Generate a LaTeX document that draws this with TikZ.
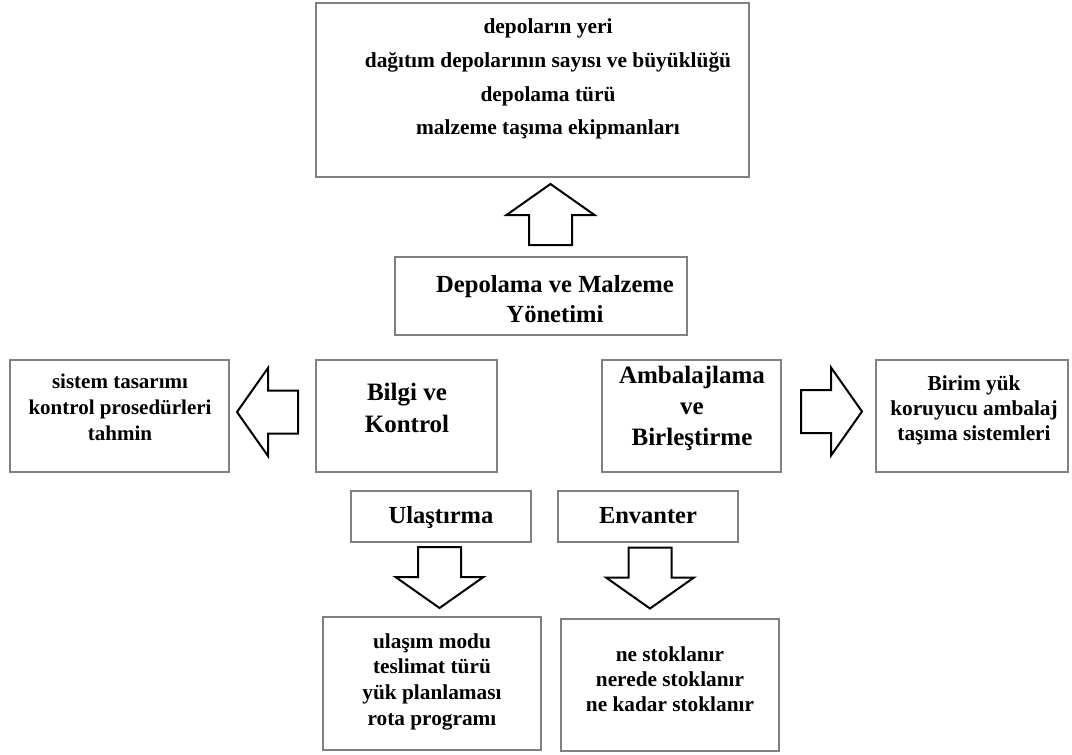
\documentclass[tikz,border=0pt]{standalone}
\usepackage{fontspec}
\setmainfont{Liberation Serif}
\definecolor{frame}{RGB}{128,128,128}
\tikzset{
  box/.style={draw=frame, line width=1.8pt, fill=white, inner sep=0pt, rectangle},
  txt/.style={align=center, inner sep=0pt},
  fs/.style 2 args={font=\fontsize{#1}{#2}\selectfont\bfseries},
  pics/blockarrow/.style={code={
    \draw[line width=2pt, line join=miter, fill=white]
      (0,-21.5) -- (30,-21.5) -- (30,-44) -- (61,0) -- (30,44) -- (30,21.5) -- (0,21.5) -- cycle;
  }}
}
\begin{document}
\begin{tikzpicture}[x=1pt, y=-1pt]
\useasboundingbox (0,0) rectangle (1072,755);

% frames
\node[box, minimum width=433, minimum height=174] (top)     at (532.5,90)  {};
\node[box, minimum width=292, minimum height=78]  (depo)    at (541,296)   {};
\node[box, minimum width=219, minimum height=112] (sistem)  at (119.5,416) {};
\node[box, minimum width=181, minimum height=112] (bilgi)   at (406.5,416) {};
\node[box, minimum width=179, minimum height=112] (ambalaj) at (691.5,416) {};
\node[box, minimum width=192, minimum height=112] (birim)   at (972,416)   {};
\node[box, minimum width=180, minimum height=51]  (ulas)    at (441,516.5) {};
\node[box, minimum width=180, minimum height=51]  (env)     at (648,516.5) {};
\node[box, minimum width=218, minimum height=133] (ulasL)   at (432,683.5) {};
\node[box, minimum width=218, minimum height=132] (envL)    at (670,685)   {};

% texts
\node[txt, fs={21.4}{33.7}] (topT) at (548,77.5)
  {\strut depoların yeri\\dağıtım depolarının sayısı ve büyüklüğü\\depolama türü\\malzeme taşıma ekipmanları\strut};
\node[txt, fs={24.6}{30}] (depoT) at (555,301)
  {\strut Depolama ve Malzeme\\Yönetimi\strut};
\node[txt, fs={21}{26}] (sistemT) at (120,409)
  {\strut sistem tasarımı\\kontrol prosedürleri\\tahmin\strut};
\node[txt, fs={25}{32}] (bilgiT) at (407,409.6)
  {\strut Bilgi ve\\Kontrol\strut};
\node[txt, fs={25}{31}] (ambalajT) at (692,407.8)
  {\strut Ambalajlama\\ve\\Birleştirme\strut};
\node[txt, fs={21.3}{25}] (birimT) at (974,410)
  {\strut Birim yük\\koruyucu ambalaj\\taşıma sistemleri\strut};
\node[txt, fs={24.5}{28}, anchor=base] (ulasT) at (441,523) {Ulaştırma};
\node[txt, fs={24.5}{28}, anchor=base] (envT)  at (648,523) {Envanter};
\node[txt, fs={21.3}{25.7}] (ulasLT) at (432,681.5)
  {\strut ulaşım modu\\teslimat türü\\yük planlaması\\rota programı\strut};
\node[txt, fs={21.3}{25}] (envLT) at (670,681)
  {\strut ne stoklanır\\nerede stoklanır\\ne kadar stoklanır\strut};

% block arrows between the boxes
\pic[rotate=90]  at (550.5,245) {blockarrow};
\pic[rotate=180] at (298,412)   {blockarrow};
\pic             at (801,411.5) {blockarrow};
\pic[rotate=-90] at (439.5,547) {blockarrow};
\pic[rotate=-90] at (650,547.5) {blockarrow};
\end{tikzpicture}
\end{document}
